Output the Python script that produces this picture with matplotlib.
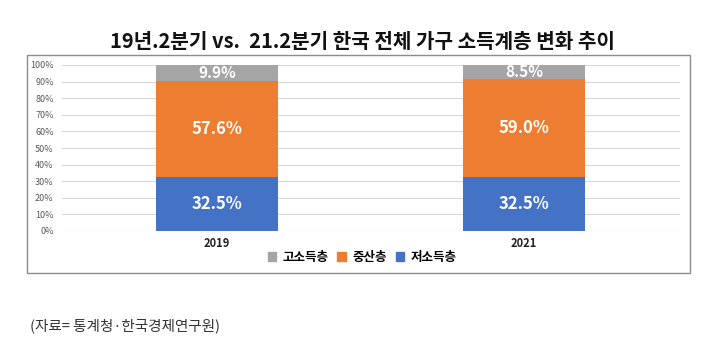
import matplotlib.pyplot as plt
import matplotlib.patches as mpatches
import numpy as np

plt.rcParams['font.family'] = ['Noto Sans CJK KR', 'DejaVu Sans']

years = ['2019', '2021']
low = [32.5, 32.5]      # 저소득층
mid = [57.6, 59.0]      # 중산층
high = [9.9, 8.5]       # 고소득층
series_names = ['고소득층', '중산층', '저소득층']
colors = {'high': '#A5A5A5', 'mid': '#ED7D31', 'low': '#4472C4'}

fig = plt.figure(figsize=(7.2, 3.46), dpi=100)
fig.patch.set_facecolor('white')

# 차트 외곽 테두리
frame = mpatches.Rectangle((27 / 720, 1 - 273 / 346), (690 - 27) / 720, (273 - 55) / 346,
                           transform=fig.transFigure, fill=False, edgecolor='#8c8c8c', lw=1.0)
fig.patches.append(frame)

ax = fig.add_axes([62 / 720, 1 - 231 / 346, (680 - 62) / 720, (231 - 65) / 346])
x = np.arange(len(years))
w = 0.4
ax.bar(x, low, w, color=colors['low'], zorder=3)
ax.bar(x, mid, w, bottom=low, color=colors['mid'], zorder=3)
bottom2 = [a + b for a, b in zip(low, mid)]
ax.bar(x, high, w, bottom=bottom2, color=colors['high'], zorder=3)

# 막대 안 라벨
for i in range(len(years)):
    ax.text(x[i], low[i] / 2, f'{low[i]:.1f}%', ha='center', va='center',
            color='white', fontsize=12, fontweight='bold', zorder=4)
    ax.text(x[i], low[i] + mid[i] / 2, f'{mid[i]:.1f}%', ha='center', va='center',
            color='white', fontsize=12, fontweight='bold', zorder=4)
    ax.text(x[i], bottom2[i] + high[i] / 2, f'{high[i]:.1f}%', ha='center', va='center',
            color='white', fontsize=11, fontweight='bold', zorder=4)

ax.set_xlim(-0.505, 1.508)
ax.set_ylim(0, 100)
ax.set_yticks(range(0, 101, 10))
ax.set_yticklabels([f'{v}%' for v in range(0, 101, 10)], fontsize=6.5, color='#595959')
ax.set_xticks(x)
ax.set_xticklabels(years, fontsize=8, fontweight='bold', color='#222222')
ax.tick_params(axis='both', length=0)
ax.tick_params(axis='y', pad=6)
ax.tick_params(axis='x', pad=4)
ax.grid(axis='y', color='#d9d9d9', lw=0.8, zorder=0)
for s in ax.spines.values():
    s.set_visible(False)

handles = [mpatches.Patch(color=colors['high']), mpatches.Patch(color=colors['mid']),
           mpatches.Patch(color=colors['low'])]
fig.legend(handles, series_names, loc='center', bbox_to_anchor=(362 / 720, 1 - 257 / 346),
           ncol=3, frameon=False, handlelength=0.7, handleheight=0.7, handletextpad=0.5,
           columnspacing=0.7, prop={'size': 9, 'weight': 'bold'})

fig.text(362 / 720, 1 - 42 / 346, '19년.2분기 vs.  21.2분기 한국 전체 가구 소득계층 변화 추이',
         ha='center', va='center', fontsize=14.5, fontweight='bold', color='#111111')
fig.text(30 / 720, 1 - 326 / 346, '(자료= 통계청·한국경제연구원)', ha='left', va='center',
         fontsize=10.5, color='#333333')

plt.savefig('out.png', dpi=100)
